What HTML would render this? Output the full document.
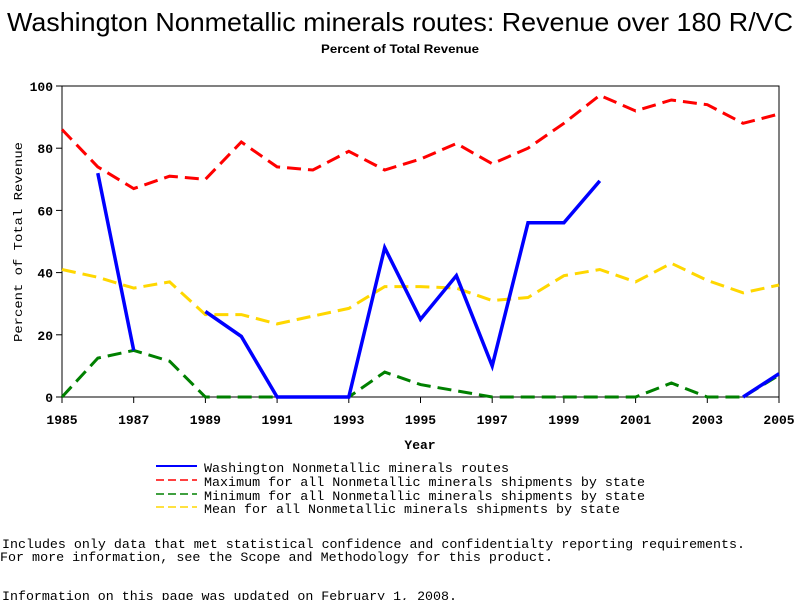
<!DOCTYPE html>
<html><head><meta charset="utf-8"><style>
html,body{margin:0;padding:0;background:#fff;}
svg{display:block;font-family:"Liberation Mono","DejaVu Sans Mono",monospace;}
</style></head><body>
<svg id="chart" width="800" height="600" viewBox="0 0 800 600">
<text x="400" y="31" text-anchor="middle" font-family="Liberation Sans, sans-serif" font-size="26" textLength="786" lengthAdjust="spacingAndGlyphs">Washington Nonmetallic minerals routes: Revenue over 180 R/VC</text>
<text x="400" y="53" text-anchor="middle" font-family="Liberation Sans, sans-serif" font-size="12" font-weight="bold" textLength="158" lengthAdjust="spacingAndGlyphs">Percent of Total Revenue</text>
<rect x="62" y="86" width="717" height="311" fill="none" stroke="#000" stroke-width="1"/>
<g id="axes"></g>
<g id="series"></g>
<text x="420" y="449" text-anchor="middle" font-size="13" font-weight="bold">Year</text>
<text transform="translate(22,242) rotate(-90)" text-anchor="middle" font-size="12" textLength="200" lengthAdjust="spacingAndGlyphs">Percent of Total Revenue</text>
<g font-size="13">
 <g><line x1="156" y1="466" x2="197" y2="466" stroke="#0000ff" stroke-width="2"/><text x="204" y="472" textLength="305" lengthAdjust="spacingAndGlyphs">Washington Nonmetallic minerals routes</text></g>
 <g><line x1="156" y1="480" x2="197" y2="480" stroke="#ff0000" stroke-width="1.5" stroke-dasharray="8,4"/><text x="204" y="486" textLength="441" lengthAdjust="spacingAndGlyphs">Maximum for all Nonmetallic minerals shipments by state</text></g>
 <g><line x1="156" y1="494" x2="197" y2="494" stroke="#008000" stroke-width="1.5" stroke-dasharray="8,4"/><text x="204" y="500" textLength="441" lengthAdjust="spacingAndGlyphs">Minimum for all Nonmetallic minerals shipments by state</text></g>
 <g><line x1="156" y1="507" x2="197" y2="507" stroke="#ffd700" stroke-width="1.5" stroke-dasharray="8,4"/><text x="204" y="513" textLength="416" lengthAdjust="spacingAndGlyphs">Mean for all Nonmetallic minerals shipments by state</text></g>
</g>
<text x="2" y="548" font-size="13" textLength="743" lengthAdjust="spacingAndGlyphs">Includes only data that met statistical confidence and confidentialty reporting requirements.</text>
<text x="0" y="561" font-size="13" textLength="553" lengthAdjust="spacingAndGlyphs">For more information, see the Scope and Methodology for this product.</text>
<text x="2" y="600" font-size="13" textLength="455" lengthAdjust="spacingAndGlyphs">Information on this page was updated on February 1, 2008.</text>
</svg>
<script>
const years = [1985,1986,1987,1988,1989,1990,1991,1992,1993,1994,1995,1996,1997,1998,1999,2000,2001,2002,2003,2004,2005];
const washington = [null,72,15,null,27.5,19.5,0,0,0,48,25,39,10,56,56,69.5,null,null,null,0,7.5];
const maximum = [86,74,67,71,70,82,74,73,79,73,76.5,81.5,75,80,88,97,92,95.5,94,88,91];
const minimum = [0,12.5,15,11.5,0,0,0,0,0,8,4,2,0,0,0,0,0,4.5,0,0,7];
const mean = [41,38.5,35,37,26.5,26.5,23.5,26,28.5,35.5,35.5,35,31,32,39,41,37,43,37.5,33.5,36];
const xTicks = [1985,1987,1989,1991,1993,1995,1997,1999,2001,2003,2005];
const yTicks = [0,20,40,60,80,100];

const NS='http://www.w3.org/2000/svg';
const X0=62,X1=779,Y0=397,Y1=86;
function xs(y){return X0+(y-1985)/(2005-1985)*(X1-X0);}
function ys(v){return Y0-v/100*(Y0-Y1);}
const axes=document.getElementById('axes');
xTicks.forEach(t=>{
 const l=document.createElementNS(NS,'line');
 l.setAttribute('x1',xs(t));l.setAttribute('x2',xs(t));l.setAttribute('y1',Y0);l.setAttribute('y2',Y0+6);l.setAttribute('stroke','#000');
 
 
 axes.appendChild(l);
 const tx=document.createElementNS(NS,'text');
 tx.setAttribute('x',xs(t));tx.setAttribute('y',Y0+27);tx.setAttribute('text-anchor','middle');tx.setAttribute('font-size','13');tx.setAttribute('font-weight','bold');
 tx.textContent=t;
 
 
 axes.appendChild(tx);
});
yTicks.forEach(t=>{
 const l=document.createElementNS(NS,'line');
 l.setAttribute('x1',X0-6);l.setAttribute('x2',X0);l.setAttribute('y1',ys(t));l.setAttribute('y2',ys(t));l.setAttribute('stroke','#000');
 
 
 axes.appendChild(l);
 const tx=document.createElementNS(NS,'text');
 tx.setAttribute('x',X0-9);tx.setAttribute('y',ys(t)+5);tx.setAttribute('text-anchor','end');tx.setAttribute('font-size','13');tx.setAttribute('font-weight','bold');
 tx.textContent=t;
 
 
 axes.appendChild(tx);
});
const series=document.getElementById('series');
function draw(vals,color,dash,width,name){
 let segs=[],cur=[];
 vals.forEach((v,i)=>{ if(v===null){ if(cur.length)segs.push(cur);cur=[];} else cur.push(xs(years[i]).toFixed(1)+','+ys(v).toFixed(1)); });
 if(cur.length)segs.push(cur);
 segs.forEach(s=>{
  const p=document.createElementNS(NS,'polyline');
  p.setAttribute('points',s.join(' '));p.setAttribute('fill','none');p.setAttribute('stroke',color);p.setAttribute('stroke-width',width);
  if(dash)p.setAttribute('stroke-dasharray',dash);
  
  
  series.appendChild(p);
 });
}
draw(maximum,'#ff0000','14,7',3,'maximum-line');
draw(mean,'#ffd700','14,7',3,'mean-line');
draw(minimum,'#008000','14,7',3,'minimum-line');
draw(washington,'#0000ff',null,3.5,'washington-line');
</script>
</body></html>
